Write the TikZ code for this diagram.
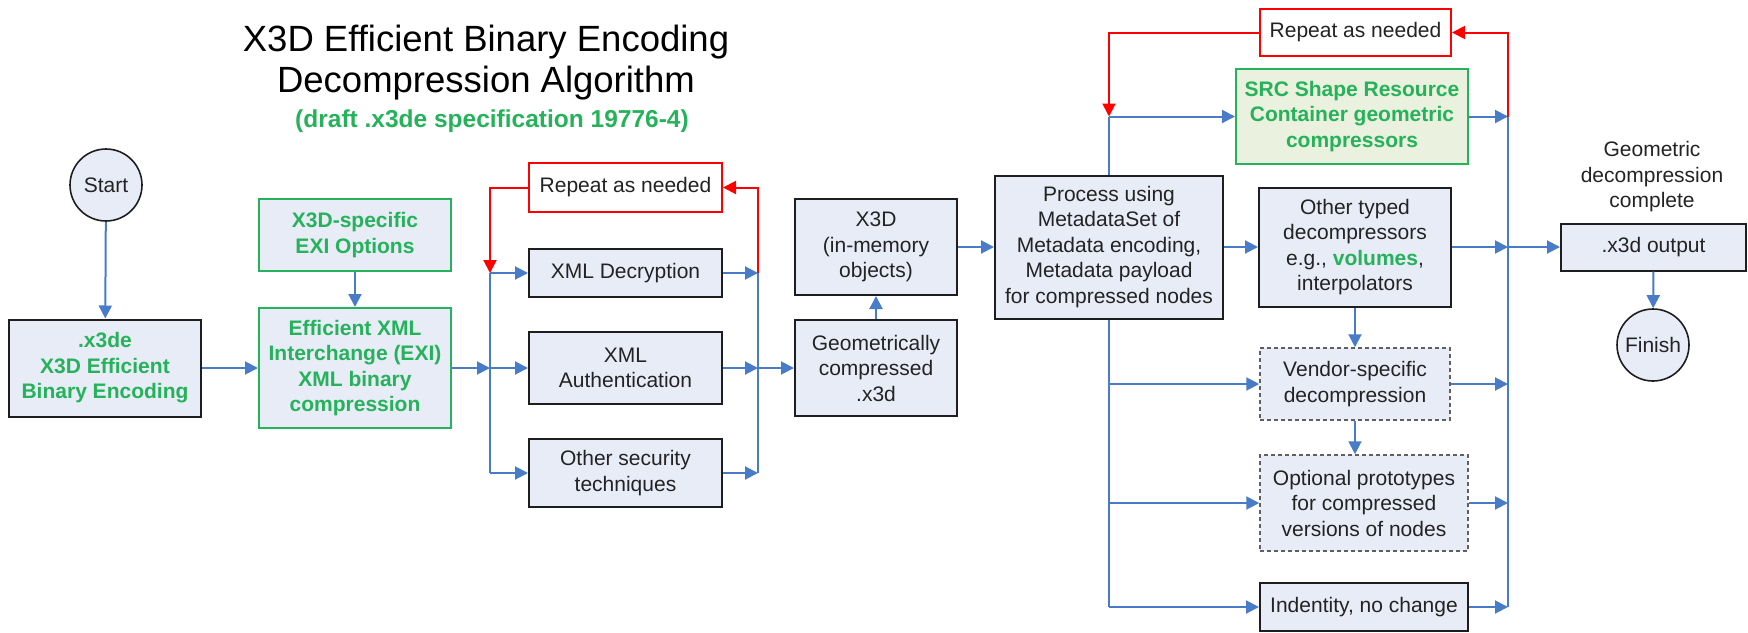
\documentclass[tikz,border=0pt]{standalone}
\usepackage{fontspec}
\setmainfont{Liberation Sans}
\usetikzlibrary{arrows.meta}
\definecolor{boxfill}{RGB}{231,236,247}
\definecolor{srcfill}{RGB}{234,241,222}
\definecolor{boxline}{RGB}{30,30,30}
\definecolor{exigreen}{RGB}{38,178,90}
\definecolor{flowblue}{RGB}{72,124,200}
\definecolor{dashgray}{RGB}{95,95,95}
\definecolor{textgray}{RGB}{35,35,35}
\newcommand\chartfont{\fontsize{21}{25.5}\selectfont}
\tikzset{
	box/.style={draw=boxline, line width=2pt, fill=boxfill, inner sep=0pt, align=center, text=textgray, font=\chartfont},
	encbox/.style={box, text=exigreen, font=\chartfont\bfseries},
	exibox/.style={encbox, draw=exigreen},
	srcbox/.style={exibox, fill=srcfill},
	vendbox/.style={box, draw=dashgray, line width=1.5pt, dash pattern=on 4pt off 3pt},
	loopbox/.style={box, draw=red, fill=white},
	term/.style={circle, draw=boxline, line width=1.6pt, fill=boxfill, minimum size=72pt, inner sep=0pt, text=textgray, font=\chartfont},
	wire/.style={draw=flowblue, line width=2pt},
	flow/.style={wire, -{Triangle[length=13pt,width=13pt]}},
	loopback/.style={draw=red, line width=2pt, -{Triangle[length=13pt,width=13pt]}},
}
\begin{document}
\begin{tikzpicture}[x=1pt,y=-1pt]
	\useasboundingbox (0,0) rectangle (1748,632);
	\node[align=center, font=\fontsize{36.5}{41}\selectfont, text=black] (title) at (486,62.5) {X3D Efficient Binary Encoding\\Decompression Algorithm};
	\node[font=\fontsize{24.5}{29}\selectfont\bfseries, text=exigreen] (draft) at (492,121) {(draft .x3de specification 19776-4)};
	\node[term] (start) at (106,185) {Start};
	\node[encbox, minimum width=192pt, minimum height=97pt] (x3de) at (105,368) {.x3de\\X3D Efficient\\Binary Encoding};
	\node[exibox, minimum width=192pt, minimum height=72pt] (exiopts) at (355,235) {X3D-specific\\EXI Options};
	\node[exibox, minimum width=192pt, minimum height=120pt] (exi) at (355,368) {Efficient XML\\Interchange (EXI)\\XML binary\\compression};
	\node[loopbox, minimum width=193pt, minimum height=49pt] (repeatA) at (625.5,187.5) {Repeat as needed};
	\node[box, minimum width=193pt, minimum height=48pt] (decrypt) at (625.5,273) {XML Decryption};
	\node[box, minimum width=193pt, minimum height=72pt] (authen) at (625.5,368) {XML\\Authentication};
	\node[box, minimum width=193pt, minimum height=68pt] (othersec) at (625.5,473) {Other security\\techniques};
	\node[box, minimum width=162pt, minimum height=96pt] (inmem) at (876,247) {X3D\\(in-memory\\objects)};
	\node[box, minimum width=162pt, minimum height=96pt] (geocomp) at (876,368) {Geometrically\\compressed\\.x3d};
	\node[box, minimum width=228pt, minimum height=143pt] (process) at (1109,247) {Process using\\MetadataSet of\\Metadata encoding,\\Metadata payload\\for compressed nodes};
	\node[loopbox, minimum width=191pt, minimum height=47pt] (repeatB) at (1355.5,32.5) {Repeat as needed};
	\node[srcbox, minimum width=232pt, minimum height=95pt] (src) at (1352,116.5) {SRC Shape Resource\\Container geometric\\compressors};
	\node[box, minimum width=192pt, minimum height=119pt] (typed) at (1355,247) {Other typed\\decompressors\\e.g., \textcolor{exigreen}{\bfseries volumes},\\interpolators};
	\node[vendbox, minimum width=190pt, minimum height=72pt] (vendor) at (1355,384) {Vendor-specific\\decompression};
	\node[vendbox, minimum width=208pt, minimum height=96pt] (protos) at (1364,503) {Optional prototypes\\for compressed\\versions of nodes};
	\node[box, minimum width=208pt, minimum height=48pt] (identity) at (1364,607) {Indentity, no change};
	\node[box, minimum width=185pt, minimum height=47pt] (output) at (1653.5,247) {.x3d output};
	\node[term] (finish) at (1653,345) {Finish};
	\node[align=center, font=\chartfont, text=textgray] (done) at (1652,177) {Geometric\\decompression\\complete};
	\coordinate (splitA) at (490,368);
	\coordinate (joinA) at (758,368);
	\coordinate (joinB) at (1508,247);
	\draw[flow] (start) -- (x3de);
	\draw[flow] (exiopts) -- (exi);
	\draw[flow] (x3de) -- (exi);
	\draw[flow] (exi) -- (splitA);
	\draw[wire] (splitA |- decrypt.west) -- (splitA |- othersec.west);
	\draw[wire] (joinA |- decrypt.east) -- (joinA |- othersec.east);
	\foreach \n in {decrypt,authen,othersec} {
		\draw[flow] (splitA |- \n.west) -- (\n.west);
		\draw[flow] (\n.east) -- (joinA |- \n.east);
	}
	\draw[flow] (joinA) -- (geocomp);
	\draw[flow] (geocomp) -- (inmem);
	\draw[flow] (inmem) -- (process);
	\draw[wire] (process.north) -- (process.north |- src.west);
	\draw[wire] (process.south) -- (process.south |- identity.west);
	\draw[flow] (process.north |- src.west) -- (src.west);
	\draw[flow] (process) -- (typed);
	\foreach \n in {vendor,protos,identity}
		\draw[flow] (process.south |- \n.west) -- (\n.west);
	\draw[wire] (joinB |- src.east) -- (joinB |- identity.east);
	\foreach \n in {src,typed,vendor,protos,identity}
		\draw[flow] (\n.east) -- (joinB |- \n.east);
	\draw[flow] (typed) -- (vendor);
	\draw[flow] (vendor.south) -- (vendor.south |- protos.north);
	\draw[flow] (joinB) -- (output);
	\draw[flow] (output) -- (finish);
	\draw[loopback] (repeatA.west) -| (splitA |- decrypt.west);
	\draw[loopback] (joinA |- decrypt.east) |- (repeatA.east);
	\draw[loopback] (repeatB.west) -| (process.north |- src.west);
	\draw[loopback] (joinB |- src.east) |- (repeatB.east);
\end{tikzpicture}
\end{document}
